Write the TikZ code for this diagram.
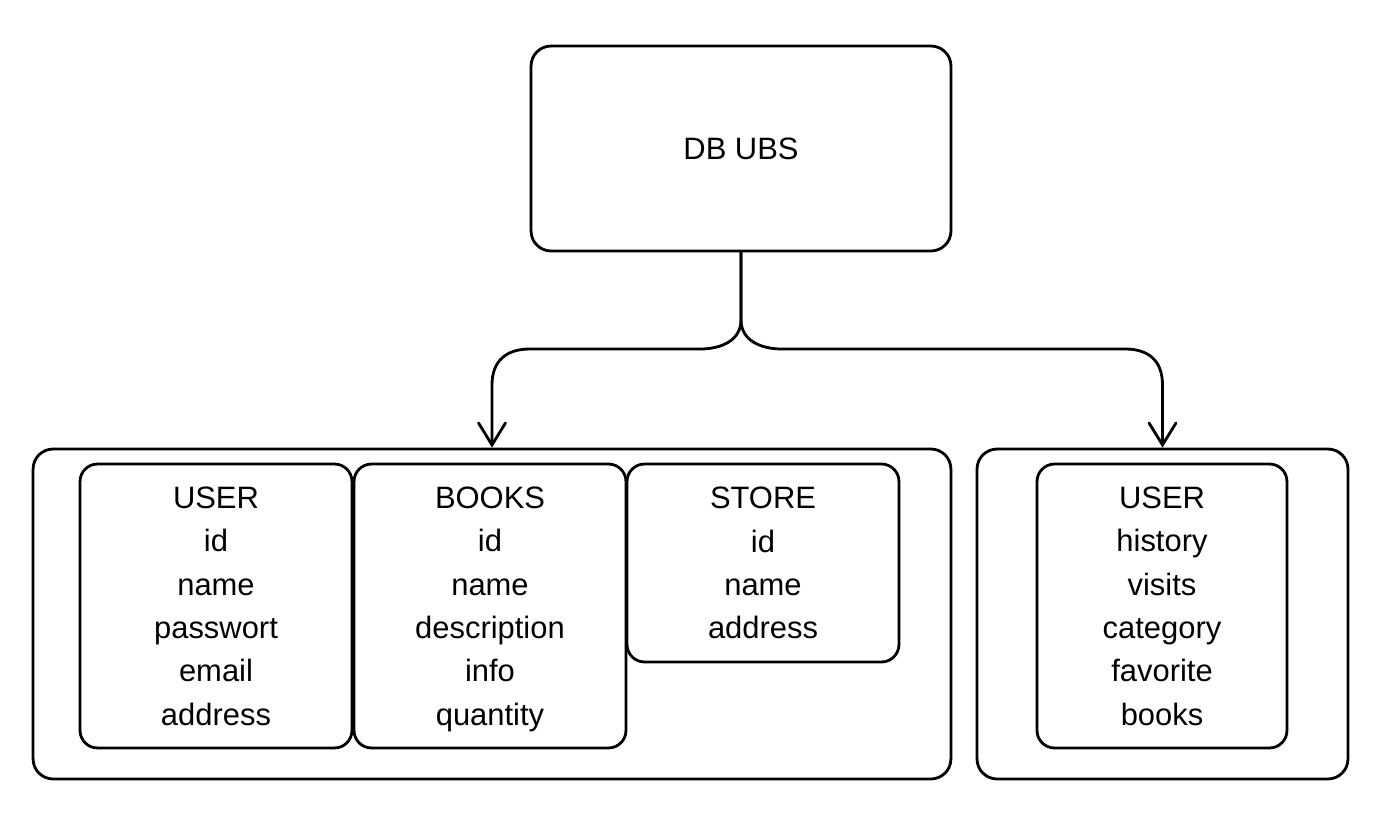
\documentclass[tikz,border=0pt]{standalone}
\usepackage{fontspec}
\setmainfont{Liberation Sans}
\usepackage{tikz}
\usetikzlibrary{arrows.meta, calc, positioning}
\tikzset{dbbox/.style={rectangle,rounded corners=0.4cm,draw=black,line width=1.6pt,minimum width=8.4cm,minimum height=4.1cm}}
\tikzset{grp/.style={rectangle,rounded corners=0.4cm,draw=black,line width=1.6pt,minimum height=6.6cm}}
\tikzset{tbl/.style={rectangle,rounded corners=0.35cm,draw=black,line width=1.6pt,align=center,inner sep=0pt,text depth=0pt,font=\fontsize{17.6pt}{24.7pt}\selectfont}}
\tikzset{flow/.style={line width=1.6pt,line cap=round,-{Straight Barb[length=4.4mm,width=5.4mm,line cap=round]}}}

\begin{document}
\begin{tikzpicture}[x=0.02cm,y=-0.02cm]
\useasboundingbox (0,0) rectangle (1394,832);
\node [dbbox,font=\fontsize{17.6pt}{24.7pt}\selectfont] at (741,148.5) (db) {DB UBS};

\node [grp,minimum width=18.36cm] at (492,614) (left) {};
\node [grp,minimum width=7.42cm] at (1162.5,614) (right) {};

\node [tbl,minimum width=5.44cm,minimum height=5.68cm] at (216,606) (user) {USER\\id\\name\\passwort\\email\\address};
\node [tbl,minimum width=5.44cm,minimum height=5.68cm] at (490,606) (books) {BOOKS\\id\\name\\description\\info\\quantity};
\node [tbl,minimum width=5.44cm,minimum height=3.96cm] at (763,563) (store) {STORE\\id\\name\\address};
\node [tbl,minimum width=5cm,minimum height=5.68cm] at (1162,606) (hist) {USER\\history\\visits\\category\\favorite\\books};

\coordinate (split) at (741,320);
\draw [flow] (db.south) -- (split)
	.. controls +(0,20) and +(22,0) .. (700,349) -- (530,349)
	.. controls +(-24,0) and +(0,-24) .. (left.north |- 0,385) -- (left.north);
\draw [flow] (db.south) -- (split)
	.. controls +(0,20) and +(-22,0) .. (782,349) -- (1125,349)
	.. controls +(24,0) and +(0,-24) .. (right.north |- 0,385) -- (right.north);
\end{tikzpicture}
\end{document}
